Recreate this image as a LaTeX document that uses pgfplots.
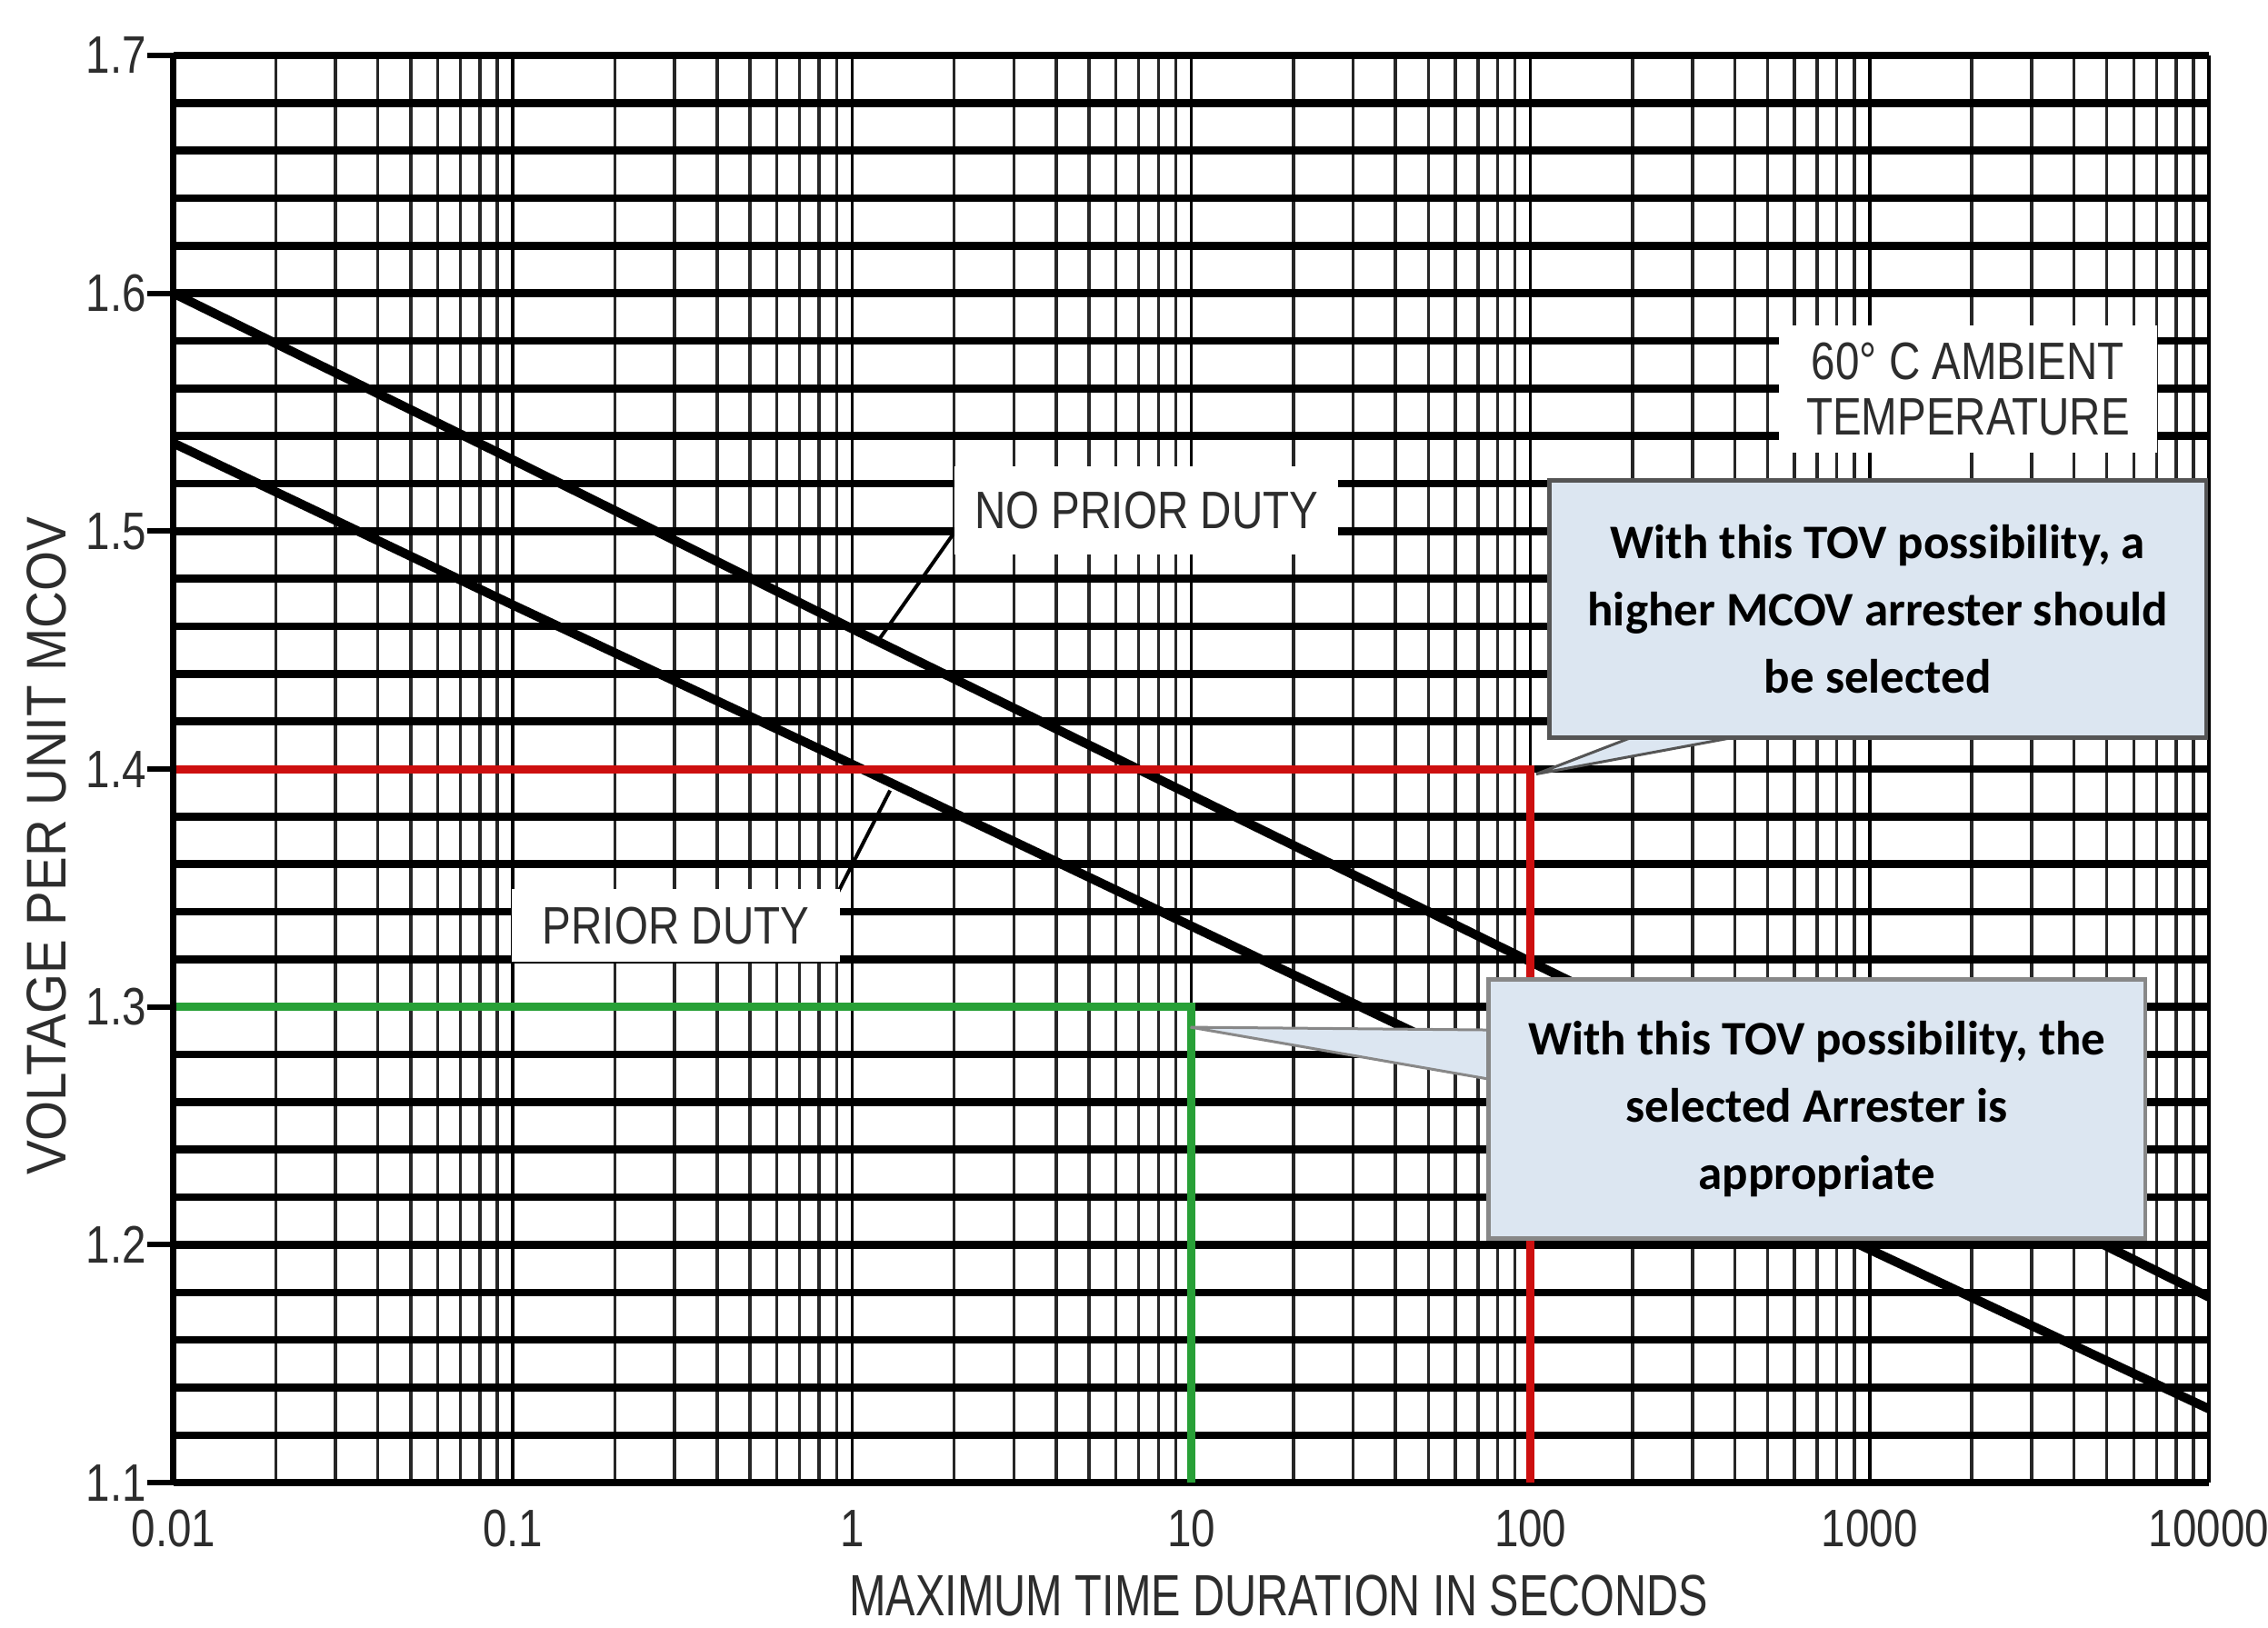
\documentclass[border=0pt]{standalone}
\usepackage{fontspec}
\setmainfont{Liberation Sans}
\newfontfamily\narrow[FakeStretch=0.82]{Liberation Sans}
\newfontfamily\ynarrow[FakeStretch=0.92]{Liberation Sans}
\newfontfamily\xnarrow[FakeStretch=0.76]{Liberation Sans}
\newfontfamily\callfont{Carlito}
\usepackage{pgfplots}
\pgfplotsset{compat=1.18}
\definecolor{calfill}{RGB}{220,230,241}
\definecolor{calline}{RGB}{85,85,85}
\definecolor{myred}{RGB}{205,15,15}
\definecolor{mygreen}{RGB}{40,160,55}
\definecolor{txt}{RGB}{45,45,45}
\begin{document}
\begin{tikzpicture}
\begin{axis}[
  width=447.8pt, height=314pt, scale only axis,
  xmode=log, xmin=0.01, xmax=10000, ymin=1.1, ymax=1.7,
  xtick={0.01,0.1,1,10,100,1000,10000},
  xticklabels={0.01,0.1,1,10,100,1000,10000},
  minor xtick={0.02,0.03,0.04,0.05,0.06,0.07,0.08,0.09,
    0.2,0.3,0.4,0.5,0.6,0.7,0.8,0.9,
    2,3,4,5,6,7,8,9,
    20,30,40,50,60,70,80,90,
    200,300,400,500,600,700,800,900,
    2000,3000,4000,5000,6000,7000,8000,9000},
  ytick={1.1,1.2,1.3,1.4,1.5,1.6,1.7},
  yticklabels={1.1,1.2,1.3,1.4,1.5,1.6,1.7},
  minor ytick={1.12,1.14,1.16,1.18,1.22,1.24,1.26,1.28,1.32,1.34,1.36,1.38,
    1.42,1.44,1.46,1.48,1.52,1.54,1.56,1.58,1.62,1.64,1.66,1.68},
  xmajorgrids, xminorgrids, ymajorgrids, yminorgrids,
  major x grid style={black, line width=0.7pt},
  minor x grid style={black!85, line width=0.7pt},
  major y grid style={black, line width=1.7pt},
  minor y grid style={black, line width=1.7pt},
  axis line style={draw=none},
  tick align=outside,
  xtick pos=bottom, ytick pos=left,
  major tick length=5.8pt, minor tick length=0pt,
  xtick style={draw=none},
  ytick style={black, line width=1.2pt},
  xticklabel style={font=\narrow\fontsize{11.6}{12}\selectfont, text=txt, inner sep=0pt, anchor=north},
  yticklabel style={font=\narrow\fontsize{11.6}{12}\selectfont, text=txt, inner sep=0pt, anchor=east},
  xlabel={MAXIMUM TIME DURATION IN SECONDS},
  xlabel style={font=\xnarrow\fontsize{12.8}{14}\selectfont, text=txt, at={(axis description cs:0.543,-0.0935)}, anchor=base, inner sep=0pt},
  ylabel={VOLTAGE PER UNIT MCOV},
  ylabel style={font=\ynarrow\fontsize{12.3}{14}\selectfont, text=txt, at={(axis description cs:-0.0527,0.446)}, anchor=base, inner sep=0pt},
  clip mode=individual,
]
% NO PRIOR DUTY
\addplot[black, line width=2pt] coordinates {(0.01,1.600) (0.1,1.530) (1,1.459) (10,1.389) (100,1.319) (1000,1.249) (10000,1.178)};
% PRIOR DUTY
\addplot[black, line width=2pt] coordinates {(0.01,1.537) (0.1,1.469) (1,1.402) (10,1.334) (100,1.266) (1000,1.198) (10000,1.131)};
% red and green limits
\addplot[myred, line width=1.8pt] coordinates {(0.01,1.4) (100,1.4) (100,1.1)};
\addplot[mygreen, line width=1.8pt] coordinates {(0.01,1.3) (10,1.3) (10,1.1)};

\draw[black, line width=1.4pt] (rel axis cs:0,0) -- (rel axis cs:0,1);

% leaders
\draw[black, line width=0.8pt] (rel axis cs:0.3837,0.666) -- (rel axis cs:0.3461,0.5898);
\draw[black, line width=0.8pt] (rel axis cs:0.3229,0.4038) -- (rel axis cs:0.352,0.485);

% curve labels
\node[fill=white, inner sep=0pt, minimum width=84.4pt, minimum height=19.4pt, font=\narrow\fontsize{11.6}{12}\selectfont, text=txt] at (rel axis cs:0.478,0.681) {NO PRIOR DUTY};
\node[fill=white, inner sep=0pt, minimum width=72.2pt, minimum height=16pt, font=\narrow\fontsize{11.6}{12}\selectfont, text=txt] at (rel axis cs:0.2468,0.3904) {PRIOR DUTY};
\node[fill=white, inner sep=0pt, minimum width=83.2pt, minimum height=28pt, align=center, font=\narrow\fontsize{11.6}{12.2}\selectfont, text=txt] at (rel axis cs:0.8816,0.7663) {60° C AMBIENT\\TEMPERATURE};

% callout 1
\filldraw[fill=calfill, draw=calline, line width=0.6pt] (rel axis cs:0.7306,0.53) -- (rel axis cs:0.6695,0.4965) -- (rel axis cs:0.796,0.53);
\node[fill=calfill, draw=calline, line width=0.9pt, inner sep=0pt, minimum width=144.5pt, minimum height=56.6pt, align=center, font=\callfont\bfseries\fontsize{10.6}{14.8}\selectfont] at (rel axis cs:0.8373,0.612) {With this TOV possibility, a\\higher MCOV arrester should\\be selected};

% callout 2
\filldraw[fill=calfill, draw=calline!70, line width=0.6pt] (rel axis cs:0.655,0.3171) -- (rel axis cs:0.4996,0.3191) -- (rel axis cs:0.655,0.2806);
\node[fill=calfill, draw=calline!70, line width=0.9pt, inner sep=0pt, minimum width=144.5pt, minimum height=57pt, align=center, font=\callfont\bfseries\fontsize{10.6}{14.8}\selectfont] at (rel axis cs:0.8074,0.2619) {With this TOV possibility, the\\selected Arrester is\\appropriate};

\coordinate (BL) at (rel axis cs:-0.0853,-0.1013);
\coordinate (TR) at (rel axis cs:1.029,1.0389);
\end{axis}
\pgfresetboundingbox
\useasboundingbox (BL) rectangle (TR);
\end{tikzpicture}
\end{document}
